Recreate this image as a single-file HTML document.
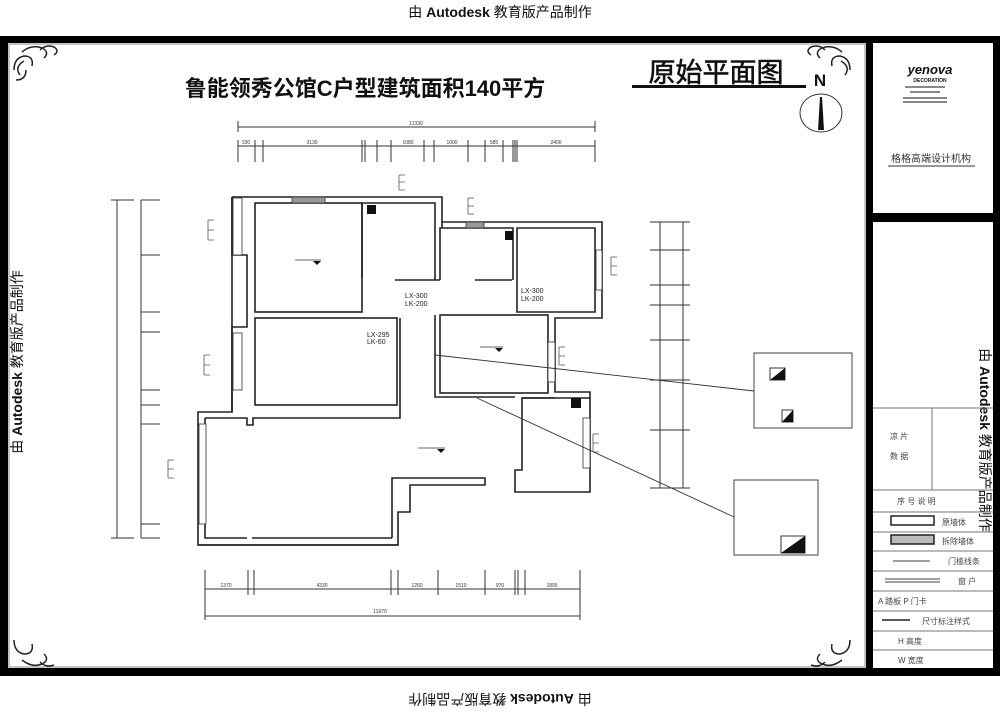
<!DOCTYPE html>
<html><head><meta charset="utf-8"><style>
html,body{margin:0;padding:0;background:#fff}
svg{display:block}
text{font-family:"Liberation Sans","Noto Sans CJK SC",sans-serif}
</style></head><body>
<svg width="1000" height="711" viewBox="0 0 1000 711" xmlns="http://www.w3.org/2000/svg">
<rect width="1000" height="711" fill="#fff"/>
<!-- outer frame -->
<rect x="0" y="36" width="1000" height="7" fill="#000"/>
<rect x="0" y="668" width="1000" height="8" fill="#000"/>
<rect x="0" y="36" width="8" height="640" fill="#000"/>
<rect x="9" y="44" width="856" height="623" fill="none" stroke="#888" stroke-width="1"/>
<!-- watermarks -->
<text x="500" y="17" font-size="14" text-anchor="middle" fill="#111">由 <tspan font-weight="bold">Autodesk</tspan> 教育版产品制作</text>
<text transform="translate(500,694) rotate(180)" font-size="14" text-anchor="middle" fill="#111">由 <tspan font-weight="bold">Autodesk</tspan> 教育版产品制作</text>
<text transform="translate(22,362) rotate(-90)" font-size="14" text-anchor="middle" fill="#111">由 <tspan font-weight="bold">Autodesk</tspan> 教育版产品制作</text>
<!-- title block -->
<rect x="866" y="36" width="134" height="640" fill="#000"/>
<rect x="873" y="43" width="120" height="170" fill="#fff"/>
<rect x="873" y="222" width="120" height="446" fill="#fff"/>
<text x="930" y="74" font-size="13" font-weight="bold" font-style="italic" text-anchor="middle" fill="#111">yenova</text>
<text x="930" y="82" font-size="5" font-weight="bold" text-anchor="middle" fill="#111">DECORATION</text>
<rect x="905" y="86" width="40" height="2" fill="#888"/><rect x="910" y="91" width="30" height="2" fill="#888"/>
<rect x="903" y="97" width="44" height="2" fill="#888"/><rect x="903" y="101" width="44" height="2" fill="#888"/>
<text x="931" y="162" font-size="10" text-anchor="middle" fill="#333">格格高端设计机构</text>
<line x1="888" y1="166" x2="975" y2="166" stroke="#333"/>
<text transform="translate(980,440) rotate(90)" font-size="14" text-anchor="middle" fill="#111">由 <tspan font-weight="bold">Autodesk</tspan> 教育版产品制作</text>
<g stroke="#777" stroke-width="1" fill="none">
<line x1="873" y1="408" x2="993" y2="408"/><line x1="932" y1="408" x2="932" y2="490"/>
<line x1="873" y1="490" x2="993" y2="490"/><line x1="873" y1="512" x2="993" y2="512"/>
<line x1="873" y1="532" x2="993" y2="532"/><line x1="873" y1="551" x2="993" y2="551"/>
<line x1="873" y1="571" x2="993" y2="571"/><line x1="873" y1="591" x2="993" y2="591"/>
<line x1="873" y1="611" x2="993" y2="611"/><line x1="873" y1="631" x2="993" y2="631"/>
<line x1="873" y1="650" x2="993" y2="650"/>
</g>
<g font-size="8" fill="#444">
<text x="890" y="439">凉 片</text><text x="890" y="459">数 据</text>
<text x="897" y="504">序 号   说 明</text>
<rect x="891" y="516" width="43" height="9" fill="none" stroke="#222" stroke-width="1.5"/><text x="942" y="525">原墙体</text>
<rect x="891" y="535" width="43" height="9" fill="#bbb" stroke="#222" stroke-width="1.5"/><text x="942" y="544">拆除墙体</text>
<line x1="893" y1="561" x2="930" y2="561" stroke="#444"/><text x="948" y="564">门槛线条</text>
<line x1="885" y1="579" x2="940" y2="579" stroke="#444"/><line x1="885" y1="582" x2="940" y2="582" stroke="#444"/><text x="958" y="584">窗 户</text>
<text x="878" y="604">A 踏板     P 门卡</text>
<line x1="882" y1="620" x2="910" y2="620" stroke="#222" stroke-width="1.5"/><text x="922" y="624">尺寸标注样式</text>
<text x="898" y="644">H         高度</text>
<text x="898" y="663">W         宽度</text>
</g>
<!-- corner ornaments -->
<g stroke="#222" fill="none" stroke-width="1.5">
<path d="M14 70 q0 -12 10 -14 q10 0 8 10 M20 75 q-6 -8 4 -14 M22 52 q10 -8 20 -4 q8 4 2 10 M40 50 q6 -6 14 -3 q6 4 0 8 M16 80 q10 0 10 -10"/>
<path d="M850 70 q0 -12 -10 -14 q-10 0 -8 10 M845 75 q6 -8 -4 -14 M842 52 q-10 -8 -20 -4 q-8 4 -2 10 M825 50 q-6 -6 -14 -3 q-6 4 0 8"/>
<path d="M14 640 q0 12 10 14 q10 0 8 -10 M22 660 q10 8 20 4 q8 -4 2 -10 M40 662 q6 6 14 3"/>
<path d="M850 640 q0 12 -10 14 q-10 0 -8 -10 M842 660 q-10 8 -20 4 q-8 -4 -2 -10 M825 662 q-6 6 -14 3"/>
</g>
<!-- titles -->
<text x="365" y="96" font-size="22" text-anchor="middle" fill="#111" font-weight="bold">鲁能领秀公馆C户型建筑面积140平方</text>
<text x="716" y="82" font-size="27" text-anchor="middle" fill="#111" stroke="#111" stroke-width="0.6">原始平面图</text>
<rect x="632" y="85" width="174" height="3" fill="#111"/>
<text x="820" y="86" font-size="17" font-weight="bold" text-anchor="middle" fill="#111">N</text>
<ellipse cx="821" cy="113" rx="21" ry="19" fill="none" stroke="#333"/>
<path d="M820 97 L822 97 L824 130 L818 130 Z" fill="#111"/>
<!-- dimension lines -->
<g stroke="#333" stroke-width="1" fill="none">
<line x1="238" y1="127" x2="595" y2="127"/><line x1="238" y1="121" x2="238" y2="132"/><line x1="595" y1="121" x2="595" y2="132"/>
<line x1="238" y1="146" x2="595" y2="146"/>
<path d="M238 140V162 M255 140V162 M263 140V162 M362 140V162 M365 140V162 M377 140V162 M391 140V162 M424 140V162 M434 140V162 M468 140V162 M485 140V162 M503 140V162 M513 140V162 M515 140V162 M517 140V162 M595 140V162"/>
<line x1="117" y1="200" x2="117" y2="538"/><line x1="111" y1="200" x2="134" y2="200"/><line x1="111" y1="538" x2="134" y2="538"/>
<line x1="141" y1="200" x2="141" y2="538"/>
<path d="M141 200H160 M141 255H160 M141 312H160 M141 332H160 M141 390H160 M141 405H160 M141 424H160 M141 524H160 M141 538H160"/>
<line x1="205" y1="589" x2="580" y2="589"/><line x1="205" y1="616" x2="580" y2="616"/>
<path d="M205 570V620 M248 570V595 M254 570V595 M391 570V595 M398 570V595 M438 570V595 M485 570V595 M515 570V595 M518 570V595 M525 570V595 M580 570V620"/>
<line x1="660" y1="222" x2="660" y2="488"/><line x1="683" y1="222" x2="683" y2="488"/>
<path d="M650 222H690 M650 250H690 M650 285H690 M650 305H690 M650 340H690 M650 380H690 M650 430H690 M650 488H690"/>
</g>
<g font-size="5" fill="#333" text-anchor="middle">
<text x="416" y="125">11330</text>
<text x="246" y="144">330</text><text x="312" y="144">3130</text><text x="408" y="144">1080</text><text x="452" y="144">1000</text><text x="494" y="144">585</text><text x="556" y="144">2400</text>
<text x="380" y="613">11970</text><text x="226" y="587">1370</text><text x="322" y="587">4330</text><text x="417" y="587">1260</text><text x="461" y="587">1510</text><text x="500" y="587">970</text><text x="552" y="587">1805</text>
</g>
<!-- walls -->
<g stroke="#222" stroke-width="1.6" fill="none">
<path d="M232 197H442V222H602V318H555V392H590V492H515V470H522V398H555 M232 197V255H247V327H232V412H198V545H398V512H410V485H485V478H392V538"/>
<path d="M198 545H398"/>
<rect x="255" y="203" width="107" height="109"/>
<path d="M362 278V203H435V280 M395 280H440 M440 280V228H513V280 M475 280H512 M517 228H595V312H517Z"/>
<rect x="255" y="318" width="142" height="87"/>
<rect x="440" y="315" width="108" height="78"/>
<path d="M435 315V397H515 M590 398H522"/>
<path d="M205 418H247V425H253V418H400V318 M205 418V538H247 M252 538H392"/>
<path d="M442 222V228 M232 197V412"/>
</g>
<!-- windows -->
<g fill="#fff" stroke="#333" stroke-width="0.8">
<rect x="233" y="198" width="9" height="57"/><rect x="233" y="333" width="9" height="57"/>
<rect x="199" y="424" width="7" height="100"/><rect x="292" y="197" width="33" height="6" fill="#999"/>
<rect x="466" y="222" width="18" height="6" fill="#999"/><rect x="596" y="250" width="6" height="40"/>
<rect x="548" y="342" width="7" height="40"/><rect x="583" y="418" width="7" height="50"/>
</g>
<!-- shafts -->
<path d="M367 205L376 205L376 214Z M367 205L367 214L376 214" fill="#111"/>
<path d="M505 231L513 231L513 240L505 240Z" fill="#111"/>
<path d="M571 398L581 398L581 408L571 408Z" fill="#111"/>
<g font-size="7" fill="#222">
<text x="405" y="298">LX-300</text><text x="405" y="306">LK-200</text>
<text x="521" y="293">LX-300</text><text x="521" y="301">LK-200</text>
<text x="367" y="337">LX-295</text><text x="367" y="344">LK-60</text>
</g>
<g fill="#111"><path d="M313 261h8l-4 4z M495 348h8l-4 4z M437 449h8l-4 4z"/></g>
<g stroke="#333" stroke-width="0.8"><line x1="295" y1="260" x2="321" y2="260"/><line x1="480" y1="347" x2="503" y2="347"/><line x1="418" y1="448" x2="445" y2="448"/></g>
<!-- tag brackets -->
<g stroke="#555" fill="none" stroke-width="0.8">
<path d="M208 220V240 M208 220H214 M208 230H214 M208 240H214"/>
<path d="M204 355V375 M204 355H210 M204 365H210 M204 375H210"/>
<path d="M168 460V478 M168 460H174 M168 469H174 M168 478H174"/>
<path d="M399 175V190 M399 175H405 M399 182H405 M399 190H405"/>
<path d="M468 198V214 M468 198H474 M468 206H474 M468 214H474"/>
<path d="M611 257V275 M611 257H617 M611 266H617 M611 275H617"/>
<path d="M559 347V365 M559 347H565 M559 356H565 M559 365H565"/>
<path d="M593 434V452 M593 434H599 M593 443H599 M593 452H599"/>
</g>
<!-- detail lines & boxes -->
<g stroke="#333" fill="none" stroke-width="0.9">
<line x1="435" y1="355" x2="754" y2="391"/><line x1="477" y1="398" x2="734" y2="517"/>
<rect x="754" y="353" width="98" height="75"/><rect x="734" y="480" width="84" height="75"/>
</g>
<path d="M770 368H785V380H770Z" fill="#fff" stroke="#333"/><path d="M770 380L785 368V380Z" fill="#111"/>
<path d="M782 410H793V422H782Z" fill="#fff" stroke="#333"/><path d="M782 422L793 410V422Z" fill="#111"/>
<path d="M781 536H805V553H781Z" fill="#fff" stroke="#333"/><path d="M781 553L805 536V553Z" fill="#111"/>
</svg>
</body></html>
